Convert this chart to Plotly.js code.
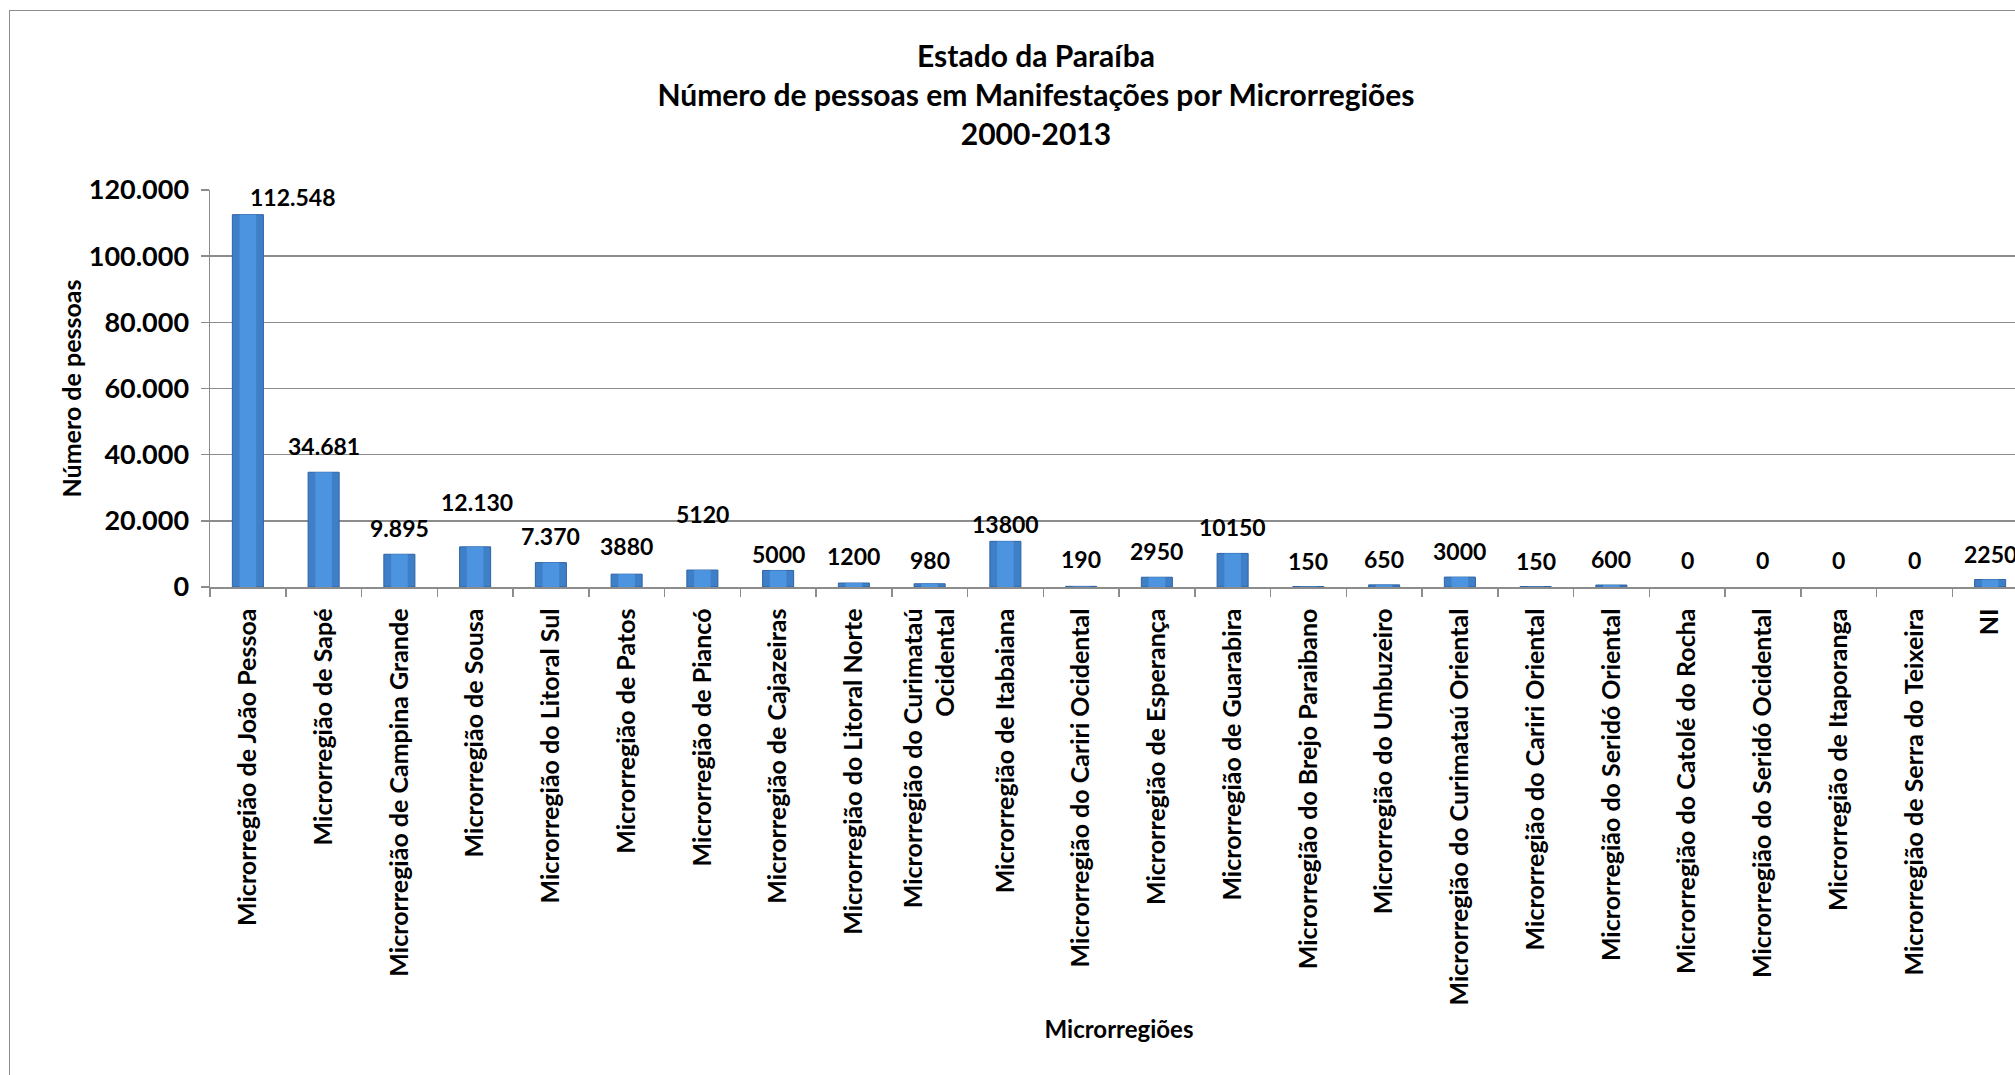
<!DOCTYPE html>
<html>
<head>
<meta charset="utf-8">
<script src="https://cdn.plot.ly/plotly-3.0.1.min.js"></script>
<style>
  html, body { margin: 0; padding: 0; background: #ffffff; overflow: hidden; width: 2015px; height: 1075px; }
  #frame { position: absolute; left: 9px; top: 10px; width: 2200px; height: 1200px; border: 1.5px solid #8c8c8c; box-sizing: border-box; pointer-events: none; z-index: 5; }
  #chart { position: absolute; left: 0; top: 0; }
</style>
</head>
<body>
<div id="chart"></div>
<div id="frame"></div>
<script>
// ---- data ----
const categories = [
  "Microrregião de João Pessoa",
  "Microrregião de Sapé",
  "Microrregião de Campina Grande",
  "Microrregião de Sousa",
  "Microrregião do Litoral Sul",
  "Microrregião de Patos",
  "Microrregião de Piancó",
  "Microrregião de Cajazeiras",
  "Microrregião do Litoral Norte",
  "Microrregião do Curimataú<br>Ocidental",
  "Microrregião de Itabaiana",
  "Microrregião do Cariri Ocidental",
  "Microrregião de Esperança",
  "Microrregião de Guarabira",
  "Microrregião do Brejo Paraibano",
  "Microrregião do Umbuzeiro",
  "Microrregião do Curimataú Oriental",
  "Microrregião do Cariri Oriental",
  "Microrregião do Seridó Oriental",
  "Microrregião do Catolé do Rocha",
  "Microrregião do Seridó Ocidental",
  "Microrregião de Itaporanga",
  "Microrregião de Serra do Teixeira",
  "NI"
];
const pessoas = [112548, 34681, 9895, 12130, 7370, 3880, 5120, 5000, 1200, 980, 13800, 190, 2950, 10150, 150, 650, 3000, 150, 600, 0, 0, 0, 0, 2250];
const valueLabels = ["112.548", "34.681", "9.895", "12.130", "7.370", "3880", "5120", "5000", "1200", "980", "13800", "190", "2950", "10150", "150", "650", "3000", "150", "600", "0", "0", "0", "0", "2250"];
const titleLines = ["Estado da Paraíba", "Número de pessoas em Manifestações por Microrregiões", "2000-2013"];
const yTitle = "Número de pessoas";
const xTitle = "Microrregiões";

// ---- label placement style (pixel nudges of the data labels) ----
const labelRise = [18, 26, 26, 45, 27, 28, 56, 16, 27, 24, 17, 27, 26, 26, 26, 26, 26, 26, 26, 27, 27, 27, 27, 26];
const labelDx   = [45, 0, 0, 2, 0, 0, 0, 0, 0, 0, 0, 0, 0, 0, 0, 0, 0, 0, 0, 0, 0, 0, 0, 0];

const FONT = "Lato, 'Open Sans', sans-serif";

const outlineWidths = pessoas.map(v => (v > 0 ? 1 : 0));

const barTrace = {
  type: "bar",
  x: categories,
  y: pessoas,
  width: 0.41,
  marker: { color: "#3f7fc8", line: { color: "#2d63a3", width: outlineWidths } },
  hoverinfo: "x+y"
};
// lighter centre band to suggest the bevelled bar shading
const shineTrace = {
  type: "bar",
  x: categories,
  y: pessoas,
  width: 0.22,
  marker: { color: "#4c93e0", line: { width: 0 } },
  hoverinfo: "skip"
};

const annotations = categories.map((c, i) => ({
  x: c, y: pessoas[i], xref: "x", yref: "y",
  text: valueLabels[i], showarrow: false,
  xanchor: "center", yanchor: "middle",
  yshift: labelRise[i], xshift: labelDx[i],
  font: { family: FONT, size: 23, color: "#000000", weight: "bold" }
}));

const layout = {
  width: 2060, height: 1075,
  margin: { l: 210, r: 32, t: 190, b: 488 },
  paper_bgcolor: "#ffffff", plot_bgcolor: "#ffffff",
  separators: ",.",
  showlegend: false,
  barmode: "overlay",
  font: { family: FONT, color: "#000000" },
  title: {
    text: titleLines.join("<br>"),
    font: { family: FONT, size: 30, color: "#000000", weight: "bold" },
    xref: "container", x: 1036 / 2060, xanchor: "center",
    yref: "container", y: 1 - 67 / 1075, yanchor: "top"
  },
  xaxis: {
    type: "category",
    tickson: "boundaries",
    ticks: "outside", ticklen: 8, tickcolor: "#8c8c8c", tickwidth: 1.5,
    tickangle: -90,
    tickfont: { family: FONT, size: 25, color: "#000000", weight: "bold" },
    showline: true, linecolor: "#8c8c8c", linewidth: 1.5,
    showgrid: false,
    ticklabelstandoff: 10,
    title: { text: xTitle, font: { family: FONT, size: 24, color: "#000000", weight: "bold" }, standoff: 16 },
    automargin: false
  },
  yaxis: {
    range: [0, 120000],
    dtick: 20000,
    tickformat: ",d",
    ticks: "outside", ticklen: 8, tickcolor: "#8c8c8c", tickwidth: 1.5,
    tickfont: { family: FONT, size: 27, color: "#000000", weight: "bold" },
    showline: true, linecolor: "#8c8c8c", linewidth: 1.5,
    showgrid: true, gridcolor: "#8c8c8c", gridwidth: 1.5,
    zeroline: false,
    ticklabelstandoff: 6,
    title: { text: yTitle, font: { family: FONT, size: 25, color: "#000000", weight: "bold" }, standoff: 0 },
    automargin: false
  },
  annotations: annotations
};

Plotly.newPlot("chart", [barTrace, shineTrace], layout, { displayModeBar: false, staticPlot: true });
</script>
</body>
</html>
